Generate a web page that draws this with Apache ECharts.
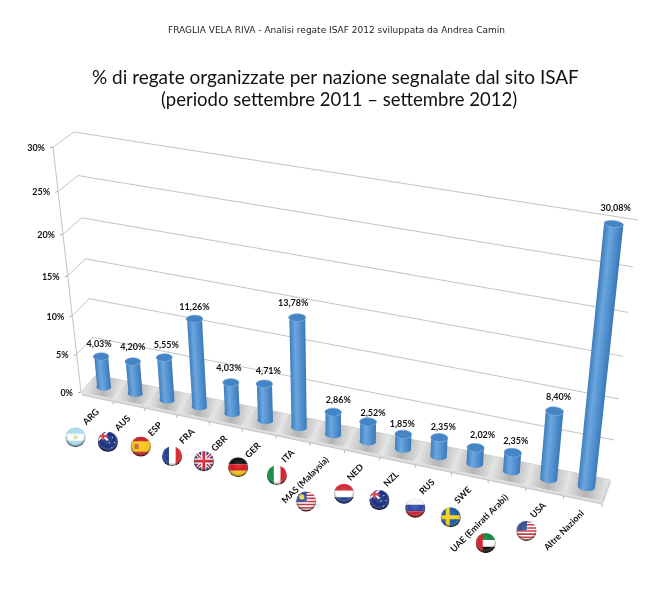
<![CDATA[<!DOCTYPE html>
<html>
<head>
<meta charset="utf-8">
<title>Regate ISAF per nazione</title>
<style>
  html, body { margin: 0; background: #fff; }
  #main { width: 660px; height: 590px; }
</style>
</head>
<body>
<div id="main"></div>
<script src="https://cdn.jsdelivr.net/npm/echarts@6/dist/echarts.min.js"></script>
<script>
var categories = ['ARG', 'AUS', 'ESP', 'FRA', 'GBR', 'GER', 'ITA', 'MAS (Malaysia)', 'NED', 'NZL', 'RUS', 'SWE', 'UAE (Emirati Arabi)', 'USA', 'Altre Nazioni'];
var values = [4.03, 4.20, 5.55, 11.26, 4.03, 4.71, 13.78, 2.86, 2.52, 1.85, 2.35, 2.02, 2.35, 8.40, 30.08];
var yTicks = [0, 5, 10, 15, 20, 25, 30];

var FONT = 'Lato';

// the hidden grid is the unit wall; these two quads put it in perspective
// order: bottom left, bottom right, top right, top left
var backWall = [[96, 375], [610, 480], [638, 220], [74, 132]];
var frontWall = [[81, 392], [601, 501], [632, 236], [53, 147]];

// small hand corrections to where each flag sits under its tick
var flagNudge = [[-2, 1], [-1, -1], [0, -3], [-1, 0], [-2, -2], [-1, -3], [4, -2], [-1, -1], [2, 2], [2, 1], [2, 1], [1, 3], [-1, 3], [2, 1]];
// where each value label sits relative to the top of its bar
var labelNudge = [[-2, -12], [0, -14], [2, -13], [0, -12], [-2, -14], [4, -13], [-4, -15], [5, -12], [5, -9], [-1, -10], [4, -11], [7, -13], [3, -11], [4, -14], [2, -16]];

function quadMap(q) {
  var x0 = q[0][0], y0 = q[0][1], x1 = q[1][0], y1 = q[1][1], x2 = q[2][0], y2 = q[2][1], x3 = q[3][0], y3 = q[3][1];
  var dx1 = x1 - x2, dx2 = x3 - x2, sx = x0 - x1 + x2 - x3;
  var dy1 = y1 - y2, dy2 = y3 - y2, sy = y0 - y1 + y2 - y3;
  var det = dx1 * dy2 - dx2 * dy1;
  var g = (sx * dy2 - dx2 * sy) / det, h = (dx1 * sy - sx * dy1) / det;
  var a = x1 - x0 + g * x1, b = x3 - x0 + h * x3, d = y1 - y0 + g * y1, e = y3 - y0 + h * y3;
  return function (u, v) {
    var w = g * u + h * v + 1;
    return [(a * u + b * v + x0) / w, (d * u + e * v + y0) / w];
  };
}
var backMap = quadMap(backWall), frontMap = quadMap(frontWall);

// u along the categories, v up the value axis, depth 0 = back, 1 = front
function project(u, v, depth) {
  var b = backMap(u, v), f = frontMap(u, v);
  return [b[0] + (f[0] - b[0]) * depth, b[1] + (f[1] - b[1]) * depth];
}
function toU(px, cs) { return (px - cs.x) / cs.width; }
function toV(py, cs) { return (cs.y + cs.height - py) / cs.height; }

function line(a, b, color, width) {
  return { type: 'line', shape: { x1: a[0], y1: a[1], x2: b[0], y2: b[1] }, style: { stroke: color, lineWidth: width || 1 } };
}
function label(text, x, y, align, size, rotation) {
  return {
    type: 'text', x: x, y: y, rotation: rotation || 0,
    style: { text: text, align: align, verticalAlign: 'middle', fill: '#111', fontFamily: FONT, fontSize: size, fontWeight: 'bold' }
  };
}

function renderWall(params, api) {
  var cs = params.coordSys;
  var tick = api.value(1);
  var v = toV(api.coord([0, tick])[1], cs);
  var front = project(0, v, 1), back = project(0, v, 0), right = project(1, v, 0);
  var children = [
    { type: 'polyline', shape: { points: [front, back, right] }, style: { fill: null, stroke: '#c4c4c4', lineWidth: 1 } },
    line(front, [front[0] - 3, front[1] + 1], '#a8a8a8'),
    label(tick + '%', front[0] - 8, front[1] + 1, 'right', 9)
  ];
  if (params.dataIndex === yTicks.length - 1) {
    children.push(line(project(0, 0, 1), front, '#c4c4c4'));
  }
  return { type: 'group', children: children };
}

function renderFloor(params, api) {
  var cs = params.coordSys;
  var band = api.size([1, 0])[0] / cs.width;
  var uc = toU(api.coord([api.value(0), 0])[0], cs);
  var u0 = uc - band / 2, u1 = uc + band / 2;
  var a = project(u0, 0, 1), b = project(u1, 0, 1), c = project(u1, 0, 0), d = project(u0, 0, 0);
  var m0 = project(u0, 0, 0.5), m1 = project(u1, 0, 0.5);
  var shade = new echarts.graphic.LinearGradient(m0[0], m0[1], m1[0], m1[1], [
    { offset: 0, color: '#e2e2e2' }, { offset: 0.5, color: '#b4b4b4' }, { offset: 1, color: '#e2e2e2' }
  ], true);
  var children = [
    { type: 'polygon', shape: { points: [a, b, c, d] }, style: { fill: shade } },
    { type: 'polygon', shape: { points: [a, b, [b[0] + 1, b[1] + 3], [a[0] + 1, a[1] + 3]] }, style: { fill: '#dcdcdc' } },
    line([a[0] + 1, a[1] + 3], [b[0] + 1, b[1] + 3], '#c4c4c4'),
    line([b[0] + 1, b[1] + 3], [b[0] + 1, b[1] + 6], '#b4b4b4')
  ];
  if (params.dataIndex === categories.length - 1) {
    children.push({ type: 'polygon', shape: { points: [b, c, [c[0] + 1, c[1] + 2], [b[0] + 2, b[1] + 3]] }, style: { fill: '#d2d2d2' } });
  }
  return { type: 'group', children: children };
}

function ring(uc, v, ru, rd, from, to) {
  var pts = [];
  for (var k = 0; k <= 24; k++) {
    var t = from + (to - from) * k / 24;
    pts.push(project(uc + ru * Math.cos(t), v, 0.5 + rd * Math.sin(t)));
  }
  return pts;
}

function renderBar(params, api) {
  var cs = params.coordSys;
  var val = api.value(1);
  var pos = api.coord([api.value(0), val]);
  var uc = toU(pos[0], cs), v = toV(pos[1], cs);
  var ru = api.size([1, 0])[0] / cs.width * 0.225, rd = 0.2;
  var base = ring(uc, 0, ru, rd, 0, Math.PI);
  var top = ring(uc, v, ru, rd, Math.PI, 0);
  // shade across the cylinder, square to its leaning axis
  var foot = project(uc, 0, 0.5), head = project(uc, v, 0.5);
  var ax = head[0] - foot[0], ay = head[1] - foot[1], len = Math.sqrt(ax * ax + ay * ay);
  var l = project(uc - ru, v / 2, 0.5), r = project(uc + ru, v / 2, 0.5);
  var hw = (r[0] - l[0]) / 2, cx = (l[0] + r[0]) / 2, cy = (l[1] + r[1]) / 2;
  var nx = -ay / len, ny = ax / len;
  if (nx < 0) { nx = -nx; ny = -ny; }
  var body = new echarts.graphic.LinearGradient(cx - nx * hw, cy - ny * hw, cx + nx * hw, cy + ny * hw, [
    { offset: 0, color: '#3f7dbd' }, { offset: 0.35, color: '#6ba6de' }, { offset: 0.7, color: '#508fcf' }, { offset: 1, color: '#3b78b6' }
  ], true);
  var nudge = labelNudge[params.dataIndex];
  return {
    type: 'group',
    children: [
      { type: 'polygon', shape: { points: base.concat(top) }, style: { fill: body } },
      { type: 'polygon', shape: { points: ring(uc, v, ru, rd, 0, 2 * Math.PI) }, style: { fill: '#4585c5', stroke: '#6aa3da', lineWidth: 0.5 } },
      label(val.toFixed(2).replace('.', ',') + '%', head[0] + nudge[0], head[1] + nudge[1], 'center', 9)
    ]
  };
}

// flag artwork in a -1..1 box: r = rect, l = line, c = circle
var unionJack = [
  ['r', -1, -1, 2, 2, '#1f3b86'], ['l', -1, -1, 1, 1, 0.36, '#fff'], ['l', -1, 1, 1, -1, 0.36, '#fff'],
  ['l', -1, -1, 1, 1, 0.14, '#c8202f'], ['l', -1, 1, 1, -1, 0.14, '#c8202f'],
  ['r', -1, -0.26, 2, 0.52, '#fff'], ['r', -0.26, -1, 0.52, 2, '#fff'],
  ['r', -1, -0.14, 2, 0.28, '#c8202f'], ['r', -0.14, -1, 0.28, 2, '#c8202f']
];
var southern = [
  ['r', -1, -1, 2, 2, '#1b2f7e'], ['r', -1, -1, 1, 0.85, '#2a4092'], ['l', -1, -1, 0, -0.15, 0.2, '#fff'], ['l', -1, -0.15, 0, -1, 0.2, '#fff'],
  ['r', -1, -0.68, 1, 0.22, '#d8404c'], ['r', -0.6, -1, 0.22, 0.85, '#d8404c'],
  ['c', 0.45, -0.45, 0.07, '#f4e9e9'], ['c', 0.15, 0.1, 0.07, '#f4e9e9'], ['c', 0.65, 0.05, 0.07, '#f4e9e9'], ['c', 0.4, 0.6, 0.07, '#f4e9e9']
];
var stripes13 = [['r', -1, -1, 2, 2, '#fff']];
[-1, -0.69, -0.38, -0.07, 0.24, 0.55, 0.86].forEach(function (y) { stripes13.push(['r', -1, y, 2, 0.155, '#c8323c']); });
var flagArt = {
  'ARG': [['r', -1, -1, 2, 2, '#a9dcee'], ['r', -1, -0.36, 2, 0.72, '#f6fbfc'], ['c', 0, 0, 0.2, '#e6d98a']],
  'AUS': southern,
  'ESP': [['r', -1, -1, 2, 2, '#c8202a'], ['r', -1, -0.52, 2, 1.04, '#f5c518'], ['r', -0.62, -0.26, 0.42, 0.52, '#c8643a']],
  'FRA': [['r', -1, -1, 0.7, 2, '#1f3f92'], ['r', -0.3, -1, 0.66, 2, '#fff'], ['r', 0.36, -1, 0.64, 2, '#d92532']],
  'GBR': unionJack,
  'GER': [['r', -1, -1, 2, 0.7, '#111'], ['r', -1, -0.3, 2, 0.66, '#d3131c'], ['r', -1, 0.36, 2, 0.64, '#f0c419']],
  'ITA': [['r', -1, -1, 0.7, 2, '#118a42'], ['r', -0.3, -1, 0.66, 2, '#fff'], ['r', 0.36, -1, 0.64, 2, '#d3202c']],
  'MAS (Malaysia)': stripes13.concat([['r', -1, -1, 1.05, 1.05, '#2b4d9a'], ['c', -0.45, -0.45, 0.26, '#eed54a']]),
  'NED': [['r', -1, -1, 2, 0.7, '#cf2734'], ['r', -1, -0.3, 2, 0.66, '#fff'], ['r', -1, 0.36, 2, 0.64, '#27408f']],
  'NZL': southern,
  'RUS': [['r', -1, -1, 2, 0.7, '#f6f6f6'], ['r', -1, -0.3, 2, 0.66, '#2a45a0'], ['r', -1, 0.36, 2, 0.64, '#d02030']],
  'SWE': [['r', -1, -1, 2, 2, '#1d5aa0'], ['r', -1, -0.2, 2, 0.4, '#f5cf16'], ['r', -0.5, -1, 0.4, 2, '#f5cf16']],
  'UAE (Emirati Arabi)': [['r', -1, -1, 2, 0.7, '#10873f'], ['r', -1, -0.3, 2, 0.66, '#fff'], ['r', -1, 0.36, 2, 0.64, '#111'], ['r', -1, -1, 0.7, 2, '#d3202c']],
  'USA': stripes13.concat([['r', -1, -1, 1.05, 0.95, '#35508f']])
};

function flagShapes(art, size) {
  return art.map(function (s) {
    if (s[0] === 'r') return { type: 'rect', shape: { x: s[1] * size, y: s[2] * size, width: s[3] * size, height: s[4] * size }, style: { fill: s[5] } };
    if (s[0] === 'c') return { type: 'circle', shape: { cx: s[1] * size, cy: s[2] * size, r: s[3] * size }, style: { fill: s[4] } };
    return line([s[1] * size, s[2] * size], [s[3] * size, s[4] * size], s[6], s[5] * size);
  });
}

function renderCategory(params, api) {
  var cs = params.coordSys;
  var name = categories[params.dataIndex];
  var uc = toU(api.coord([api.value(0), 0])[0], cs);
  var tick = project(uc, 0, 1);
  var children = [label(name, tick[0] + 1, tick[1] + 15, 'right', 9, Math.PI / 4)];
  var art = flagArt[name];
  if (art) {
    var size = 10;
    var drop = name.length > 8 ? 18 : 0; // long labels push the flag further down
    var nudge = flagNudge[params.dataIndex];
    children.push({
      type: 'group', x: tick[0] - 19 + nudge[0], y: tick[1] + 41 + drop + nudge[1],
      children: [
        { type: 'group', clipPath: { type: 'circle', shape: { cx: 0, cy: 0, r: size } }, children: flagShapes(art, size) },
        {
          type: 'circle', shape: { cx: 0, cy: 0, r: size },
          style: {
            fill: {
              type: 'radial', x: 0.5, y: 0.42, r: 0.55,
              colorStops: [{ offset: 0, color: 'rgba(255,255,255,0.16)' }, { offset: 0.65, color: 'rgba(255,255,255,0)' }, { offset: 1, color: 'rgba(0,0,0,0.6)' }]
            }
          }
        }
      ]
    });
  }
  return { type: 'group', children: children };
}

var catData = categories.map(function (c, i) { return [i, 0]; });
var barData = values.map(function (v, i) { return [i, v]; });
var tickData = yTicks.map(function (t) { return [0, t]; });

var chart = echarts.init(document.getElementById('main'));
chart.setOption({
  animation: false,
  backgroundColor: '#fff',
  title: [
    { text: 'FRAGLIA VELA RIVA - Analisi regate ISAF 2012 sviluppata da Andrea Camin', left: 163, top: 21, textStyle: { fontFamily: 'DejaVu Sans', fontSize: 9, fontWeight: 'normal', color: '#222' } },
    { text: '% di regate organizzate per nazione segnalate dal sito ISAF', left: 87, top: 63, textStyle: { fontFamily: FONT, fontSize: 19, fontWeight: 'normal', color: '#111' } },
    { text: '(periodo settembre 2011 – settembre 2012)', left: 156, top: 86, textStyle: { fontFamily: FONT, fontSize: 18.5, fontWeight: 'normal', color: '#111' } }
  ],
  grid: { left: 100, top: 100, width: 400, height: 300 },
  xAxis: { type: 'category', data: categories, show: false },
  yAxis: { type: 'value', min: 0, max: 30, interval: 5, show: false },
  series: [
    { type: 'custom', silent: true, clip: false, renderItem: renderWall, data: tickData },
    { type: 'custom', silent: true, clip: false, renderItem: renderFloor, data: catData },
    { type: 'custom', silent: true, clip: false, renderItem: renderCategory, data: catData },
    { type: 'custom', silent: true, clip: false, renderItem: renderBar, data: barData }
  ]
});
</script>
</body>
</html>
]]>
